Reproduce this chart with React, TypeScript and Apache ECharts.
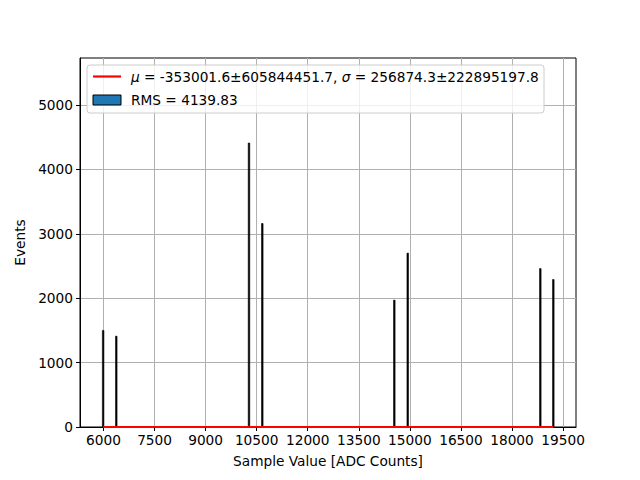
import React, { useEffect, useRef } from "react";
import * as echarts from "echarts";

const spikeX = [5990, 6376, 10274, 10665, 14543, 14937, 18832, 19214];
const spikeY = [1500, 1410, 4410, 3160, 1970, 2700, 2460, 2290];
const fitX = [5990, 19214];
const fitY = [0, 0];
const xTicks = [6000, 7500, 9000, 10500, 12000, 13500, 15000, 16500, 18000, 19500];
const yTicks = [0, 1000, 2000, 3000, 4000, 5000];
const fitLabel = "{i|μ} = -353001.6±605844451.7, {i|σ} = 256874.3±222895197.8";
const rmsLabel = "RMS = 4139.83";

const FONT = "DejaVu Sans";
const FS = 13.7;

export default function App() {
  const ref = useRef<HTMLDivElement>(null);
  useEffect(() => {
    const chart = echarts.init(ref.current!, null, { renderer: "svg" });
    const binW = 45;
    chart.setOption({
      animation: false,
      textStyle: { fontFamily: FONT },
      grid: {
        left: 80,
        right: 64,
        top: 58,
        bottom: 53,
        show: true,
        borderColor: "#000",
        borderWidth: 1,
        backgroundColor: "transparent",
      },
      xAxis: {
        type: "value",
        min: 5310,
        max: 19880,
        name: "Sample Value [ADC Counts]",
        nameLocation: "middle",
        nameGap: 27,
        nameTextStyle: { fontSize: FS, color: "#000", fontFamily: FONT },
        axisLine: { show: true, lineStyle: { color: "#000" } },
        axisTick: { show: true, length: 4, lineStyle: { color: "#000" }, customValues: xTicks },
        axisLabel: {
          fontSize: FS,
          color: "#000",
          margin: 6,
          customValues: xTicks,
          fontFamily: FONT,
          formatter: (v: number) => String(v),
        },
        splitLine: { show: true, lineStyle: { color: "#b0b0b0", width: 1 } },
      },
      yAxis: {
        type: "value",
        min: 0,
        max: 5730,
        name: "Events",
        nameLocation: "middle",
        nameGap: 51,
        nameTextStyle: { fontSize: FS, color: "#000", fontFamily: FONT },
        axisLine: { show: true, lineStyle: { color: "#000" } },
        axisTick: { show: true, length: 4, lineStyle: { color: "#000" }, customValues: yTicks },
        axisLabel: {
          fontSize: FS,
          color: "#000",
          margin: 7,
          customValues: yTicks,
          fontFamily: FONT,
          formatter: (v: number) => String(v),
        },
        splitLine: { show: true, lineStyle: { color: "#b0b0b0", width: 1 } },
      },
      series: [
        {
          type: "custom",
          data: spikeX.map((x, i) => [x, spikeY[i]]),
          renderItem: (params: any, api: any) => {
            const x = api.value(0);
            const y = api.value(1);
            const p0 = api.coord([x - binW / 2, y]);
            const p1 = api.coord([x + binW / 2, 0]);
            return {
              type: "rect",
              shape: { x: p0[0], y: p0[1], width: p1[0] - p0[0], height: p1[1] - p0[1] },
              style: { fill: "#000", stroke: "#000", lineWidth: 0.6 },
            };
          },
          z: 2,
        },
        {
          type: "line",
          data: fitX.map((x, i) => [x, fitY[i]]),
          showSymbol: false,
          lineStyle: { color: "#ff0000", width: 2 },
          z: 3,
        },
      ],
      graphic: [
        {
          type: "rect",
          shape: { x: 87, y: 65, width: 457, height: 48, r: 3 },
          style: { fill: "rgba(255,255,255,0.8)", stroke: "#cccccc", lineWidth: 1 },
          z: 10,
        },
        {
          type: "line",
          shape: { x1: 93, y1: 76.5, x2: 121, y2: 76.5 },
          style: { stroke: "#ff0000", lineWidth: 2.2 },
          z: 11,
        },
        {
          type: "text",
          x: 131,
          y: 76.5,
          style: {
            text: fitLabel,
            fontSize: FS,
            fontFamily: FONT,
            fill: "#000",
            verticalAlign: "middle",
            rich: { i: { fontStyle: "italic", fontSize: FS, fontFamily: FONT, fill: "#000" } },
          },
          z: 11,
        },
        {
          type: "rect",
          shape: { x: 93, y: 95, width: 28, height: 10 },
          style: { fill: "#1f77b4", stroke: "#000", lineWidth: 1 },
          z: 11,
        },
        {
          type: "text",
          x: 131,
          y: 100,
          style: {
            text: rmsLabel,
            fontSize: FS,
            fontFamily: FONT,
            fill: "#000",
            verticalAlign: "middle",
          },
          z: 11,
        },
      ],
    });
    return () => chart.dispose();
  }, []);
  return <div ref={ref} style={{ width: 640, height: 480, position: "absolute", left: 0, top: 0 }} />;
}
